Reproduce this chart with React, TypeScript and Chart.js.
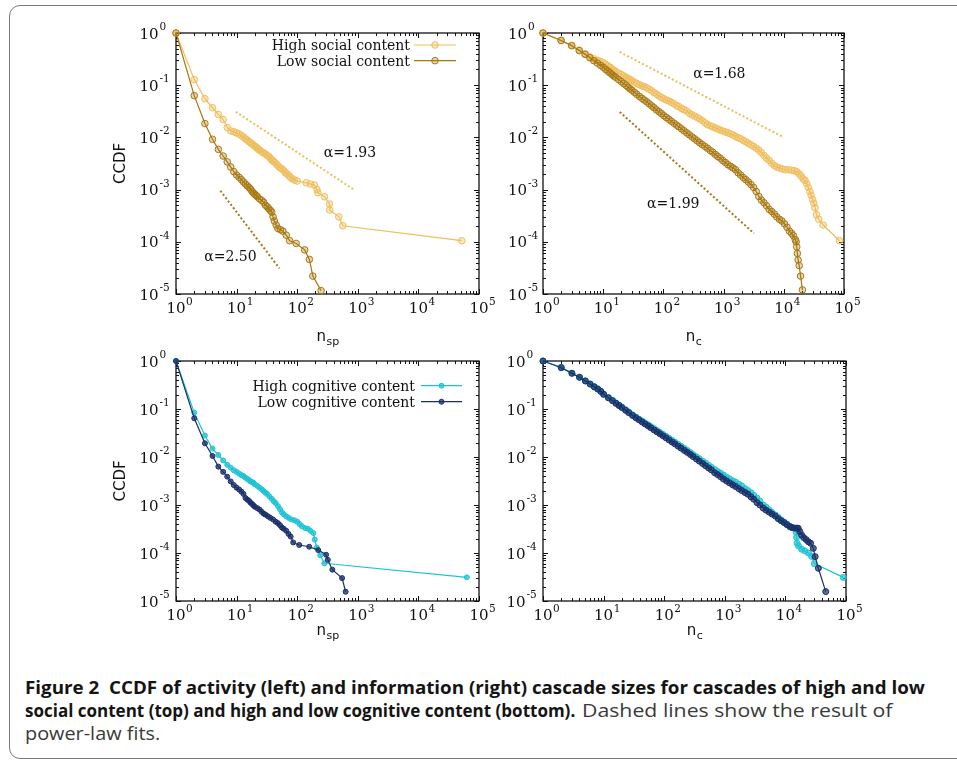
import React, { useEffect, useLayoutEffect, useRef } from 'react';
import { Chart, registerables } from 'chart.js';

Chart.register(...registerables);

type Pt = [number, number];

// ---------------- data ----------------
const highSocialActivity: Pt[] = [
  [1, 1], [2, 0.128], [3, 0.055], [4, 0.037], [5, 0.0275], [6, 0.022], [7, 0.0155], [8, 0.0133], [9, 0.0128],
  [10, 0.0122], [11, 0.0116], [12, 0.0108], [13, 0.0101], [14, 0.0094], [15, 0.0089], [16, 0.0083], [17, 0.0079],
  [18, 0.0075], [19, 0.0071], [20, 0.0068], [21, 0.0065], [22, 0.0062], [23, 0.0059], [24, 0.0057], [26, 0.0053],
  [28, 0.005], [30, 0.0048], [32, 0.0045], [34, 0.0043], [36, 0.004], [38, 0.0037], [40, 0.0035], [43, 0.0033],
  [46, 0.003], [49, 0.0028], [52, 0.0026], [56, 0.0025], [60, 0.0023], [64, 0.0021], [68, 0.002], [73, 0.00185],
  [78, 0.0017], [84, 0.0016], [90, 0.00152], [100, 0.00146], [141, 0.00135], [165, 0.00128], [193, 0.00122],
  [211, 0.00101], [219, 0.00087], [282, 0.00073], [341, 0.00053], [345, 0.000405], [486, 0.0003], [565, 0.000203],
  [52000, 0.000105],
];
const lowSocialActivity: Pt[] = [
  [1, 1], [2, 0.063], [3, 0.0184], [4, 0.0092], [5, 0.0059], [6, 0.0044], [7, 0.0034], [8, 0.0027], [9, 0.0022],
  [10, 0.0019], [11, 0.00172], [12, 0.00155], [13, 0.0014], [14, 0.00128], [15, 0.00118], [16, 0.0011], [17, 0.00102],
  [18, 0.00092], [19, 0.00086], [20, 0.00081], [21, 0.00077], [22, 0.00073], [24, 0.00066], [26, 0.00062],
  [28, 0.00057], [30, 0.0005], [32, 0.00047], [34, 0.00043], [36, 0.0004], [38, 0.00037], [40, 0.0003],
  [42, 0.00025], [45, 0.00021], [48, 0.00018], [53, 0.00017], [58, 0.00016], [66, 0.000134], [75, 0.000105],
  [96, 0.000093], [133, 0.00007], [159, 0.000046], [181, 0.000022], [248, 0.0000116],
];
const fitHighSocialActivity: Pt[] = [[9.7, 0.031], [880, 0.00098]];
const fitLowSocialActivity: Pt[] = [[5.4, 0.00095], [51, 0.000031]];

const highSocialInfo: Pt[] = [
  [1, 1], [2, 0.72], [3, 0.58], [4, 0.47], [5, 0.4], [6, 0.35], [7, 0.32], [8, 0.3], [9, 0.285], [10, 0.27],
  [11, 0.25], [12, 0.235], [13, 0.22], [14, 0.205], [15, 0.195], [16, 0.185], [18, 0.17], [20, 0.16], [22, 0.15],
  [24, 0.142], [26, 0.134], [28, 0.128], [30, 0.122], [33, 0.114], [36, 0.108], [40, 0.102], [44, 0.097],
  [48, 0.094], [53, 0.089], [58, 0.084], [64, 0.078], [70, 0.072], [77, 0.067], [85, 0.062], [93, 0.058],
  [102, 0.055], [112, 0.052], [123, 0.05], [135, 0.047], [150, 0.044], [165, 0.041], [180, 0.039], [200, 0.036],
  [220, 0.034], [245, 0.032], [270, 0.029], [300, 0.027], [330, 0.0255], [365, 0.024], [400, 0.0225], [440, 0.021],
  [490, 0.019], [540, 0.0176], [600, 0.0166], [660, 0.016], [730, 0.0152], [800, 0.0145], [880, 0.0138],
  [970, 0.0132], [1070, 0.0127], [1180, 0.0122], [1300, 0.0117], [1430, 0.0111], [1580, 0.0104], [1740, 0.0099],
  [1920, 0.0094], [2120, 0.0088], [2340, 0.0082], [2580, 0.0077], [2850, 0.0072], [3150, 0.0067], [3480, 0.0062],
  [3840, 0.0057], [4240, 0.0051], [4680, 0.0045], [5170, 0.004], [5700, 0.0036], [6300, 0.0032], [6950, 0.0029],
  [7650, 0.0027], [8450, 0.0026], [9300, 0.0025], [10500, 0.0024], [12000, 0.0024], [13500, 0.00235],
  [15000, 0.0023], [16500, 0.0022], [18000, 0.002], [19500, 0.0018], [21000, 0.0016], [22500, 0.0015],
  [24000, 0.0013], [25500, 0.0011], [27000, 0.00092], [28500, 0.00078], [30000, 0.00065], [31500, 0.00055],
  [33000, 0.00045], [35000, 0.00033], [38000, 0.00027], [45000, 0.00021], [84000, 0.000105],
];
const lowSocialInfo: Pt[] = [
  [1, 1], [2, 0.72], [3, 0.57], [4, 0.46], [5, 0.39], [6, 0.335], [7, 0.295], [8, 0.265], [9, 0.24], [10, 0.22],
  [11, 0.2], [12, 0.185], [13, 0.172], [14, 0.16], [15, 0.15], [16, 0.142], [18, 0.128], [20, 0.117], [22, 0.107],
  [24, 0.099], [26, 0.091], [28, 0.085], [30, 0.08], [33, 0.073], [36, 0.067], [40, 0.061], [44, 0.056],
  [48, 0.052], [53, 0.048], [58, 0.044], [64, 0.04], [70, 0.037], [77, 0.0335], [85, 0.031], [93, 0.0285],
  [102, 0.026], [112, 0.024], [123, 0.0222], [135, 0.0205], [150, 0.0187], [165, 0.0172], [180, 0.016],
  [200, 0.0146], [220, 0.0134], [245, 0.0122], [270, 0.0112], [300, 0.0102], [330, 0.0094], [365, 0.0086],
  [400, 0.0079], [440, 0.0073], [490, 0.0067], [540, 0.0062], [600, 0.0056], [660, 0.0052], [730, 0.0047],
  [800, 0.0043], [880, 0.004], [970, 0.0036], [1070, 0.0033], [1180, 0.003], [1300, 0.0028], [1430, 0.0026],
  [1580, 0.0024], [1740, 0.0021], [1920, 0.0019], [2120, 0.0017], [2340, 0.00155], [2580, 0.0014],
  [2850, 0.00125], [3150, 0.0011], [3480, 0.00092], [3840, 0.00074], [4240, 0.00063], [4680, 0.00056],
  [5170, 0.00049], [5700, 0.00042], [6300, 0.00038], [6950, 0.00034], [7650, 0.0003], [8450, 0.00027],
  [9300, 0.00025], [10300, 0.00022], [11300, 0.00019], [12400, 0.00016], [13500, 0.000145], [14500, 0.00013],
  [15500, 0.00011], [16000, 0.0001], [16400, 0.00008], [16800, 0.00006], [17300, 0.000045], [18000, 0.000035],
  [19000, 0.000022], [20400, 0.000012],
];
const fitHighSocialInfo: Pt[] = [[18.8, 0.433], [10000, 0.01]];
const fitLowSocialInfo: Pt[] = [[18.8, 0.0308], [3190, 0.000145]];

const highCognitiveActivity: Pt[] = [
  [1, 1], [2, 0.084], [3, 0.028], [4, 0.015], [5, 0.011], [6, 0.0085], [7, 0.0069], [8, 0.006], [9, 0.0053],
  [10, 0.0049], [11, 0.0045], [12, 0.0042], [13, 0.004], [14, 0.0037], [15, 0.0035], [16, 0.0033], [17, 0.0031],
  [18, 0.003], [19, 0.0029], [20, 0.0027], [22, 0.0025], [24, 0.0023], [26, 0.0021], [28, 0.00195], [30, 0.0018],
  [32, 0.0017], [35, 0.0015], [38, 0.00135], [41, 0.0012], [44, 0.0011], [48, 0.00095], [52, 0.00082],
  [56, 0.0007], [60, 0.00064], [66, 0.00058], [72, 0.00054], [80, 0.0005], [90, 0.00048], [100, 0.00045],
  [110, 0.0004], [120, 0.00036], [135, 0.00033], [150, 0.00032], [165, 0.00029], [185, 0.00026], [195, 0.00019],
  [210, 0.00013], [240, 0.00009], [280, 0.000061], [63000, 0.0000311],
];
const lowCognitiveActivity: Pt[] = [
  [1, 1], [2, 0.064], [3, 0.0193], [4, 0.0105], [5, 0.0063], [6, 0.0049], [7, 0.0039], [8, 0.0031], [9, 0.0026],
  [10, 0.0023], [11, 0.0021], [12, 0.0019], [13, 0.0017], [14, 0.0014], [15, 0.0013], [16, 0.00122],
  [17, 0.00112], [18, 0.00105], [19, 0.00098], [20, 0.00092], [22, 0.00086], [24, 0.0008], [26, 0.00072],
  [28, 0.00066], [30, 0.00063], [33, 0.00058], [36, 0.00054], [40, 0.0005], [44, 0.00045], [48, 0.00042],
  [52, 0.00038], [56, 0.00034], [60, 0.00032], [66, 0.00029], [72, 0.00025], [78, 0.00022], [86, 0.000166],
  [108, 0.000147], [158, 0.000135], [222, 0.000115], [300, 0.000092], [320, 0.000072], [380, 0.000045],
  [550, 0.00003], [630, 0.0000156],
];

const highCognitiveInfo: Pt[] = [
  [1, 1], [2, 0.74], [3, 0.56], [4, 0.46], [5, 0.387], [6, 0.333], [7, 0.293], [8, 0.263], [9, 0.235],
  [10, 0.205], [12, 0.174], [14, 0.152], [16, 0.134], [18, 0.121], [20, 0.11], [23, 0.097], [26, 0.087],
  [30, 0.076], [34, 0.068], [38, 0.062], [43, 0.0565], [48, 0.0515], [54, 0.047], [60, 0.043], [68, 0.039],
  [76, 0.0355], [85, 0.0325], [95, 0.0297], [107, 0.027], [120, 0.0245], [135, 0.0222], [150, 0.0204],
  [170, 0.0183], [190, 0.0167], [215, 0.015], [240, 0.0137], [270, 0.0124], [300, 0.0112], [340, 0.0101],
  [380, 0.0092], [430, 0.0082], [480, 0.0075], [540, 0.0067], [600, 0.0061], [680, 0.0055], [760, 0.005],
  [850, 0.0046], [950, 0.0042], [1070, 0.0038], [1200, 0.0035], [1350, 0.0032], [1500, 0.003], [1700, 0.0027],
  [1900, 0.0025], [2150, 0.0022], [2400, 0.002], [2700, 0.0018], [3000, 0.0016], [3400, 0.0014], [3800, 0.0012],
  [4300, 0.001], [4800, 0.0009], [5400, 0.00079], [6000, 0.0007], [6800, 0.00062], [7600, 0.00055],
  [8500, 0.00049], [9500, 0.00044], [10600, 0.0004], [11800, 0.00036], [13000, 0.00034], [14500, 0.00033],
  [15000, 0.00027], [15300, 0.00021], [15600, 0.00016], [16500, 0.00014], [18500, 0.00012], [21000, 0.00011],
  [24000, 0.0001], [27000, 0.000085], [30000, 0.00006], [90000, 0.000031],
];
const lowCognitiveInfo: Pt[] = [
  [1, 1], [2, 0.726], [3, 0.553], [4, 0.457], [5, 0.383], [6, 0.33], [7, 0.29], [8, 0.26], [9, 0.232],
  [10, 0.202], [12, 0.171], [14, 0.149], [16, 0.131], [18, 0.118], [20, 0.107], [23, 0.094], [26, 0.084],
  [30, 0.0735], [34, 0.066], [38, 0.06], [43, 0.054], [48, 0.049], [54, 0.0446], [60, 0.0407], [68, 0.0366],
  [76, 0.0334], [85, 0.0304], [95, 0.0277], [107, 0.0251], [120, 0.0227], [135, 0.0205], [150, 0.0188],
  [170, 0.0168], [190, 0.0153], [215, 0.0137], [240, 0.0125], [270, 0.0113], [300, 0.0102], [340, 0.0091],
  [380, 0.0082], [430, 0.0073], [480, 0.0066], [540, 0.0059], [600, 0.0054], [680, 0.0047], [760, 0.0043],
  [850, 0.0039], [950, 0.00347], [1070, 0.00316], [1200, 0.00288], [1350, 0.00263], [1500, 0.00243],
  [1700, 0.00219], [1900, 0.002], [2150, 0.00182], [2400, 0.00168], [2700, 0.00148], [3000, 0.00132],
  [3400, 0.00112], [3800, 0.001], [4300, 0.00086], [4800, 0.00078], [5400, 0.00071], [6000, 0.00065],
  [6800, 0.00059], [7600, 0.00052], [8500, 0.00047], [9500, 0.00043], [10600, 0.00039], [11800, 0.000355],
  [12700, 0.00034], [14000, 0.00033], [15500, 0.00033], [16300, 0.000327], [17300, 0.00028], [18500, 0.000237],
  [20000, 0.00021], [22000, 0.00019], [23900, 0.000172], [26000, 0.00016], [28900, 0.000125], [31000, 0.000084],
  [35000, 0.000048], [46300, 0.0000157],
];

const xTickExponents = [0, 1, 2, 3, 4, 5];
const yTickExponents = [0, -1, -2, -3, -4, -5];
const socialLabels = ['High social content', 'Low social content'];
const cognitiveLabels = ['High cognitive content', 'Low cognitive content'];
const captionBold1 = 'Figure 2  CCDF of activity (left) and information (right) cascade sizes for cascades of high and low';
const captionBold2 = 'social content (top) and high and low cognitive content (bottom).';
const captionNormal2 = 'Dashed lines show the result of';
const captionNormal3 = 'power-law fits.';

// ---------------- styles ----------------
const LIGHT_GOLD = '#efbd5c';
const DARK_GOLD = '#a8770f';
const CYAN = '#1fc3d3';
const NAVY = '#1b2f69';
const SERIF = '"DejaVu Serif", serif';
const SANS = '"DejaVu Sans", sans-serif';
const PAD = { l: 80, t: 15, r: 22, b: 70 };

interface SeriesDef { label: string; data: Pt[]; color: string; fill: string; radius: number; order: number }
interface FitDef { data: Pt[]; color: string }
interface NoteDef { text: string; x: number; y: number }
interface PanelDef {
  key: string; left: number; top: number; right: number; bottom: number;
  yTitle: boolean; xSub: string; xTitleGap: number; yLabelGap: number;
  series: SeriesDef[]; fits: FitDef[]; notes: NoteDef[];
  legend?: { textRight: number; rows: number[]; x1: number; x2: number };
}

const toXY = (a: Pt[]) => a.map(([x, y]) => ({ x, y }));

const panels: PanelDef[] = [
  {
    key: 'p1', left: 176, top: 33, right: 479, bottom: 294, yTitle: true, xSub: 'sp', xTitleGap: 47, yLabelGap: 17.5,
    series: [
      { label: socialLabels[0], data: highSocialActivity, color: LIGHT_GOLD, fill: 'rgba(239,189,92,0.35)', radius: 3.3, order: 2 },
      { label: socialLabels[1], data: lowSocialActivity, color: DARK_GOLD, fill: 'rgba(168,119,15,0.3)', radius: 3.3, order: 1 },
    ],
    fits: [{ data: fitHighSocialActivity, color: LIGHT_GOLD }, { data: fitLowSocialActivity, color: DARK_GOLD }],
    notes: [{ text: 'α=1.93', x: 743, y: 0.00532 }, { text: 'α=2.50', x: 7.93, y: 0.0000535 }],
    legend: { textRight: 410, rows: [45, 60.7], x1: 414, x2: 456 },
  },
  {
    key: 'p2', left: 543, top: 33, right: 844, bottom: 294, yTitle: false, xSub: 'c', xTitleGap: 47, yLabelGap: 16,
    series: [
      { label: socialLabels[0], data: highSocialInfo, color: LIGHT_GOLD, fill: 'rgba(239,189,92,0.35)', radius: 3.3, order: 2 },
      { label: socialLabels[1], data: lowSocialInfo, color: DARK_GOLD, fill: 'rgba(168,119,15,0.3)', radius: 3.3, order: 1 },
    ],
    fits: [{ data: fitHighSocialInfo, color: LIGHT_GOLD }, { data: fitLowSocialInfo, color: DARK_GOLD }],
    notes: [{ text: 'α=1.68', x: 850, y: 0.169 }, { text: 'α=1.99', x: 146, y: 0.000547 }],
  },
  {
    key: 'p3', left: 176, top: 361, right: 479, bottom: 601, yTitle: true, xSub: 'sp', xTitleGap: 34, yLabelGap: 17.5,
    series: [
      { label: cognitiveLabels[0], data: highCognitiveActivity, color: CYAN, fill: 'rgba(31,195,211,0.75)', radius: 2.5, order: 2 },
      { label: cognitiveLabels[1], data: lowCognitiveActivity, color: NAVY, fill: 'rgba(27,47,105,0.75)', radius: 2.5, order: 1 },
    ],
    fits: [],
    notes: [],
    legend: { textRight: 415, rows: [385.7, 401.7], x1: 421, x2: 462 },
  },
  {
    key: 'p4', left: 543, top: 361, right: 846, bottom: 601, yTitle: false, xSub: 'c', xTitleGap: 34, yLabelGap: 17.5,
    series: [
      { label: cognitiveLabels[0], data: highCognitiveInfo, color: CYAN, fill: 'rgba(31,195,211,0.7)', radius: 3, order: 2 },
      { label: cognitiveLabels[1], data: lowCognitiveInfo, color: NAVY, fill: 'rgba(27,47,105,0.7)', radius: 3, order: 1 },
    ],
    fits: [],
    notes: [],
  },
];

function makePlugin(def: PanelDef) {
  const ox = def.left - PAD.l;
  const oy = def.top - PAD.t;
  return {
    id: 'gnuplotDecor',
    beforeDatasetsDraw(chart: any) {
      const ctx: CanvasRenderingContext2D = chart.ctx;
      const { left, right, top, bottom } = chart.chartArea;
      const xs = chart.scales.x;
      const ys = chart.scales.y;
      ctx.save();
      ctx.strokeStyle = '#111';
      ctx.lineWidth = 1;
      ctx.beginPath();
      for (let e = 0; e <= 5; e++) {
        for (let m = 1; m <= 9; m++) {
          if (e === 5 && m > 1) break;
          const px = Math.round(xs.getPixelForValue(m * Math.pow(10, e))) + 0.5;
          const len = m === 1 ? 5 : 3;
          ctx.moveTo(px, bottom); ctx.lineTo(px, bottom - len);
          ctx.moveTo(px, top); ctx.lineTo(px, top + len);
        }
      }
      for (let e = -5; e <= 0; e++) {
        for (let m = 1; m <= 9; m++) {
          if (e === 0 && m > 1) break;
          const py = Math.round(ys.getPixelForValue(m * Math.pow(10, e))) + 0.5;
          const len = m === 1 ? 5 : 3;
          ctx.moveTo(left, py); ctx.lineTo(left + len, py);
          ctx.moveTo(right, py); ctx.lineTo(right - len, py);
        }
      }
      ctx.stroke();
      ctx.lineWidth = 1.3;
      ctx.strokeRect(left, top, right - left, bottom - top);
      ctx.restore();
    },
    afterDatasetsDraw(chart: any) {
      const ctx: CanvasRenderingContext2D = chart.ctx;
      const { left, right, top, bottom } = chart.chartArea;
      const xs = chart.scales.x;
      const ys = chart.scales.y;
      const BASE = `15px ${SERIF}`;
      const SUP = `10.5px ${SERIF}`;
      ctx.save();
      ctx.fillStyle = '#111';
      ctx.textBaseline = 'alphabetic';
      // x tick labels
      for (const e of xTickExponents) {
        const px = xs.getPixelForValue(Math.pow(10, e));
        ctx.font = BASE;
        const wb = ctx.measureText('10').width;
        ctx.textAlign = 'left';
        ctx.fillText('10', px - wb / 2, bottom + 19);
        ctx.font = SUP;
        ctx.fillText(String(e), px + wb / 2 + 0.5, bottom + 10.5);
      }
      // y tick labels
      for (const e of yTickExponents) {
        const py = ys.getPixelForValue(Math.pow(10, e));
        ctx.font = BASE;
        ctx.textAlign = 'right';
        const xr = left - def.yLabelGap;
        ctx.fillText('10', xr, py + 5.5);
        ctx.font = SUP;
        ctx.textAlign = 'left';
        ctx.fillText(String(e), xr + 1, py - 3);
      }
      // axis titles
      ctx.font = `15px ${SANS}`;
      const cx = (left + right) / 2;
      const wn = ctx.measureText('n').width;
      ctx.font = `11px ${SANS}`;
      const wsub = ctx.measureText(def.xSub).width;
      const x0 = cx - (wn + wsub) / 2;
      ctx.textAlign = 'left';
      ctx.font = `15px ${SANS}`;
      ctx.fillText('n', x0, bottom + def.xTitleGap);
      ctx.font = `11px ${SANS}`;
      ctx.fillText(def.xSub, x0 + wn + 0.5, bottom + def.xTitleGap + 4);
      if (def.yTitle) {
        ctx.save();
        ctx.translate(left - 55, (top + bottom) / 2);
        ctx.rotate(-Math.PI / 2);
        ctx.font = `15px ${SANS}`;
        ctx.textAlign = 'center';
        ctx.textBaseline = 'middle';
        ctx.fillText('CCDF', 0, 0);
        ctx.restore();
      }
      // annotations
      ctx.font = `14px ${SERIF}`;
      ctx.textAlign = 'center';
      ctx.textBaseline = 'alphabetic';
      for (const n of def.notes) {
        ctx.fillText(n.text, xs.getPixelForValue(n.x), ys.getPixelForValue(n.y) + 5);
      }
      // legend
      if (def.legend) {
        const lg = def.legend;
        lg.rows.forEach((ry, i) => {
          const s = def.series[i];
          const y = ry - oy;
          ctx.font = `14px ${SERIF}`;
          ctx.textAlign = 'right';
          ctx.fillStyle = '#111';
          ctx.fillText(s.label, lg.textRight - ox, y + 5);
          ctx.strokeStyle = s.color;
          ctx.lineWidth = 1.2;
          ctx.beginPath();
          ctx.moveTo(lg.x1 - ox, y);
          ctx.lineTo(lg.x2 - ox, y);
          ctx.stroke();
          ctx.beginPath();
          ctx.arc((lg.x1 + lg.x2) / 2 - ox, y, s.radius, 0, Math.PI * 2);
          ctx.fillStyle = s.fill;
          ctx.fill();
          ctx.lineWidth = 1;
          ctx.stroke();
        });
      }
      ctx.restore();
    },
  };
}

function ChartPanel({ def }: { def: PanelDef }) {
  const ref = useRef<HTMLCanvasElement>(null);
  const w = def.right - def.left + PAD.l + PAD.r;
  const h = def.bottom - def.top + PAD.t + PAD.b;
  useEffect(() => {
    const canvas = ref.current;
    if (!canvas) return;
    const datasets: any[] = [
      ...def.series.map((s) => ({
        label: s.label,
        data: toXY(s.data),
        borderColor: s.color,
        backgroundColor: s.fill,
        borderWidth: 1.2,
        pointRadius: s.radius,
        pointBorderWidth: 1,
        pointBackgroundColor: s.fill,
        pointBorderColor: s.color,
        tension: 0,
        clip: false,
        order: s.order,
      })),
      ...def.fits.map((f) => ({
        data: toXY(f.data),
        borderColor: f.color,
        borderWidth: 2,
        borderDash: [2, 2.2],
        pointRadius: 0,
        tension: 0,
        order: 5,
      })),
    ];
    const chart = new Chart(canvas, {
      type: 'line',
      data: { datasets },
      options: {
        animation: false,
        responsive: false,
        devicePixelRatio: 1,
        events: [],
        layout: { padding: { left: PAD.l, top: PAD.t, right: PAD.r, bottom: PAD.b } },
        scales: {
          x: { type: 'logarithmic', min: 1, max: 100000, display: false },
          y: { type: 'logarithmic', min: 0.00001, max: 1, display: false },
        },
        plugins: { legend: { display: false }, tooltip: { enabled: false } },
      } as any,
      plugins: [makePlugin(def) as any],
    });
    return () => chart.destroy();
  }, [def]);
  return (
    <canvas
      ref={ref}
      width={w}
      height={h}
      style={{ position: 'absolute', left: def.left - PAD.l, top: def.top - PAD.t, width: w, height: h }}
    />
  );
}

function FitText({ text, left, baseline, width, bold }: { text: string; left: number; baseline: number; width: number; bold: boolean }) {
  const ref = useRef<HTMLSpanElement>(null);
  useLayoutEffect(() => {
    const fit = () => {
      const el = ref.current;
      if (!el) return;
      const w = el.offsetWidth;
      if (w > 0) el.style.transform = `scaleX(${width / w})`;
    };
    fit();
    if ((document as any).fonts && (document as any).fonts.ready) (document as any).fonts.ready.then(fit);
  }, [text, width]);
  return (
    <span
      ref={ref}
      style={{
        position: 'absolute',
        left,
        top: baseline - 16.8,
        display: 'inline-block',
        whiteSpace: 'pre',
        transformOrigin: '0 0',
        fontFamily: '"Open Sans", sans-serif',
        fontSize: 17.5,
        lineHeight: '20px',
        fontWeight: bold ? 700 : 400,
        color: bold ? '#141414' : '#3a3a3a',
      }}
    >
      {text}
    </span>
  );
}

export default function App() {
  return (
    <div style={{ position: 'fixed', left: 0, top: 0, width: 957, height: 761, overflow: 'hidden', background: '#fff' }}>
      <div
        style={{
          position: 'absolute', left: 9, top: 5, width: 1000, height: 754,
          border: '1.5px solid #7a7a7a', borderRadius: 11, boxSizing: 'border-box',
        }}
      />
      {panels.map((p) => (
        <ChartPanel key={p.key} def={p} />
      ))}
      <FitText text={captionBold1} left={25} baseline={694} width={900} bold />
      <FitText text={captionBold2} left={25} baseline={717} width={550} bold />
      <FitText text={captionNormal2} left={582} baseline={717} width={311} bold={false} />
      <FitText text={captionNormal3} left={25} baseline={740} width={135} bold={false} />
    </div>
  );
}
